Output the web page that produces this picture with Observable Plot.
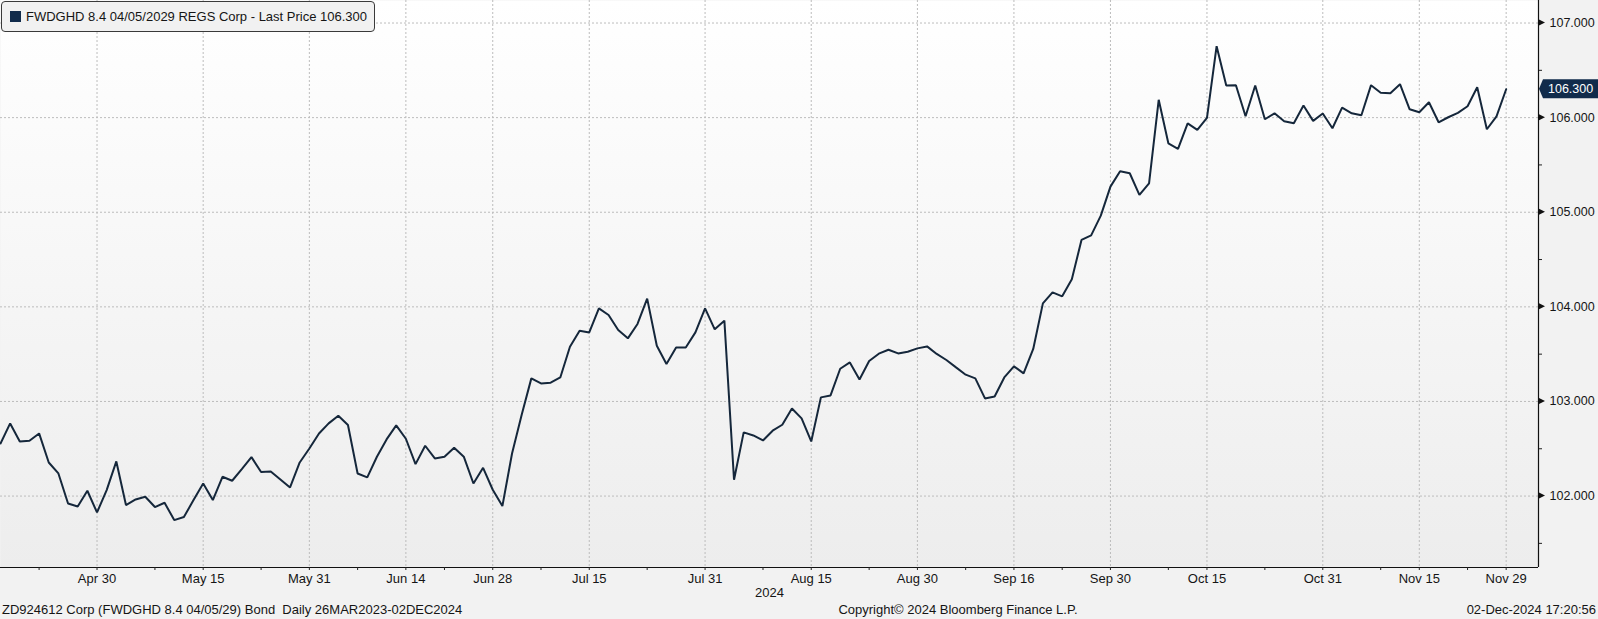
<!DOCTYPE html>
<html><head><meta charset="utf-8">
<script src="https://cdn.jsdelivr.net/npm/d3@7"></script>
<script src="https://cdn.jsdelivr.net/npm/@observablehq/plot@0.6"></script>
<style>
html,body{margin:0;padding:0;background:#f2f2f2;}
#wrap{position:relative;width:1598px;height:619px;background:#f2f2f2;font-family:"Liberation Sans",Arial,sans-serif;color:#151515;overflow:hidden;}
#chart svg{display:block;}
#legend{position:absolute;left:1px;top:1px;width:372px;height:29px;border:1px solid #3a3a3a;border-radius:4px;background:#f1f1f1;font-size:13px;line-height:29px;white-space:nowrap;}
#legend .sw{position:absolute;left:8px;top:9px;width:11px;height:11px;background:#112b4b;}
#legend .tx{position:absolute;left:24px;top:0;}
#footer{position:absolute;left:0;top:600px;width:1598px;height:19px;font-size:13px;line-height:19px;white-space:pre;}
#footer .l{position:absolute;left:2px;}
#footer .c{position:absolute;left:958px;transform:translateX(-50%);}
#footer .r{position:absolute;right:2px;}
</style></head><body>
<div id="wrap">
  <div id="chart"></div>
  <div id="legend"><span class="sw"></span><span class="tx"></span></div>
  <div id="footer"><span class="l"></span><span class="c"></span><span class="r"></span></div>
</div>
<script>
// Security / titles
const seriesName = "FWDGHD 8.4 04/05/2029 REGS Corp";
const fieldName = "Last Price";
const footerLeft = "ZD924612 Corp (FWDGHD 8.4 04/05/29) Bond  Daily 26MAR2023-02DEC2024";
const footerCenter = "Copyright\u00A9 2024 Bloomberg Finance L.P.";
const footerRight = "02-Dec-2024 17:20:56";
const yearLabel = "2024";

// Daily prices, one per trading day (Apr 16 2024 .. Nov 29 2024)
const prices = [
  102.556,102.768,102.577,102.585,102.662,102.355,102.239,101.922,101.890,102.056,
  101.827,102.063,102.366,101.905,101.964,101.993,101.884,101.929,101.746,101.778,
  101.958,102.133,101.958,102.204,102.162,102.285,102.412,102.254,102.260,102.176,
  102.091,102.355,102.503,102.662,102.768,102.849,102.751,102.239,102.197,102.416,
  102.599,102.747,102.606,102.338,102.532,102.398,102.416,102.511,102.416,102.133,
  102.299,102.067,101.894,102.450,102.860,103.244,103.191,103.198,103.254,103.579,
  103.748,103.730,103.984,103.914,103.755,103.667,103.819,104.087,103.589,103.396,
  103.571,103.571,103.730,103.984,103.762,103.854,102.172,102.673,102.641,102.588,
  102.691,102.754,102.926,102.821,102.577,103.043,103.064,103.346,103.413,103.233,
  103.428,103.505,103.547,103.508,103.526,103.561,103.582,103.502,103.438,103.360,
  103.283,103.244,103.032,103.053,103.254,103.371,103.297,103.555,104.037,104.153,
  104.111,104.291,104.707,104.756,104.964,105.271,105.433,105.412,105.183,105.306,
  106.188,105.729,105.670,105.940,105.871,105.997,106.755,106.339,106.343,106.014,
  106.339,105.983,106.046,105.962,105.940,106.128,105.966,106.043,105.888,106.106,
  106.046,106.025,106.343,106.262,106.258,106.353,106.088,106.057,106.162,105.951,
  106.004,106.050,106.120,106.321,105.877,106.014,106.300
];
const lastPrice = 106.300;

// X axis: labelled trading-day positions
const xTickLabels = ["Apr 30","May 15","May 31","Jun 14","Jun 28","Jul 15","Jul 31","Aug 15","Aug 30","Sep 16","Sep 30","Oct 15","Oct 31","Nov 15","Nov 29"];
const xTickIdx    = [10, 21, 32, 42, 51, 61, 73, 84, 95, 105, 115, 125, 137, 147, 156];
const xMinorIdx   = [4, 16, 27, 37, 46, 56, 67, 79, 90, 100, 110, 121, 131, 143, 152];
const xDomain = [0, 159.35];

// Y axis
const yTicks = [102, 103, 104, 105, 106, 107];
const yMinor = [101.5, 102.5, 103.5, 104.5, 105.5, 106.5];
const yDomain = [101.245, 107.238];

const data = prices.map((v, i) => ({i, v}));
const labelByIdx = new Map(xTickIdx.map((d, k) => [d, xTickLabels[k]]));
const fmt = d3.format(".3f");
const W = 1598, H = 600;
const gridStyle = {stroke: "#bcbcbc", strokeOpacity: 1, strokeDasharray: "2,2", strokeWidth: 1};
const font = "Liberation Sans, Arial, sans-serif";

const plot = Plot.plot({
  width: W, height: H,
  marginTop: 0, marginBottom: 33, marginLeft: 0, marginRight: 60,
  style: {background: "transparent", fontFamily: font, color: "#151515", overflow: "visible"},
  x: {type: "linear", domain: xDomain, label: null},
  y: {domain: yDomain, label: null},
  marks: [
    Plot.frame({fill: "url(#plotbg)", stroke: "none"}),
    Plot.gridX(xTickIdx, gridStyle),
    Plot.gridY(yTicks, gridStyle),
    Plot.line(data, {x: "i", y: "v", stroke: "#15273b", strokeWidth: 2, strokeLinejoin: "miter"}),
    Plot.ruleY([yDomain[0]], {stroke: "#111", strokeWidth: 1.2}),
    Plot.ruleX([xDomain[1]], {stroke: "#111", strokeWidth: 1.2}),
    Plot.axisX(xTickIdx, {tickFormat: d => labelByIdx.get(d), tickSize: 3, tickPadding: 3, fontSize: 13, stroke: "#222", fill: "#151515", label: null}),
    Plot.axisX(xMinorIdx, {tickFormat: () => "", tickSize: 3, stroke: "#222", label: null}),
    Plot.axisY(yTicks, {anchor: "right", tickFormat: fmt, tickSize: 0, tickPadding: 11, fontSize: 12.5, fill: "#151515", label: null}),
    Plot.axisY(yMinor, {anchor: "right", tickFormat: () => "", tickSize: 3, stroke: "#222", label: null}),
    Plot.text([yearLabel], {frameAnchor: "bottom", dy: 29, fontSize: 13, fill: "#151515"})
  ]
});
document.getElementById("chart").appendChild(plot);

// gradient background for the plotting area
const svg = d3.select(plot);
const grad = svg.insert("defs", ":first-child").append("linearGradient")
  .attr("id", "plotbg").attr("x1", 0).attr("y1", 0).attr("x2", 0).attr("y2", 1);
grad.append("stop").attr("offset", "0%").attr("stop-color", "#ffffff");
grad.append("stop").attr("offset", "100%").attr("stop-color", "#ededed");

// triangle markers on the right axis and last-price tag, positioned with Plot's scales
const ys = plot.scale("y"), xs = plot.scale("x");
const ax = xs.apply(xDomain[1]);
yTicks.forEach(v => {
  const y = ys.apply(v);
  svg.append("path").attr("d", `M${ax},${y - 3.5}L${ax + 7},${y}L${ax},${y + 3.5}Z`).attr("fill", "#111");
});
const ly = ys.apply(lastPrice);
svg.append("path")
  .attr("d", `M${ax + 1},${ly}L${ax + 5},${ly - 9.5}H${W}V${ly + 9.5}H${ax + 5}Z`)
  .attr("fill", "#112b4b");
svg.append("text").attr("x", ax + 10).attr("y", ly).attr("dy", "0.35em")
  .attr("text-anchor", "start")
  .attr("fill", "#ffffff").attr("font-size", 12.5).attr("font-family", font)
  .text(fmt(lastPrice));

// legend and footer
document.querySelector("#legend .tx").textContent = `${seriesName} - ${fieldName} ${fmt(lastPrice)}`;
document.querySelector("#footer .l").textContent = footerLeft;
document.querySelector("#footer .c").textContent = footerCenter;
document.querySelector("#footer .r").textContent = footerRight;
</script>
</body></html>
